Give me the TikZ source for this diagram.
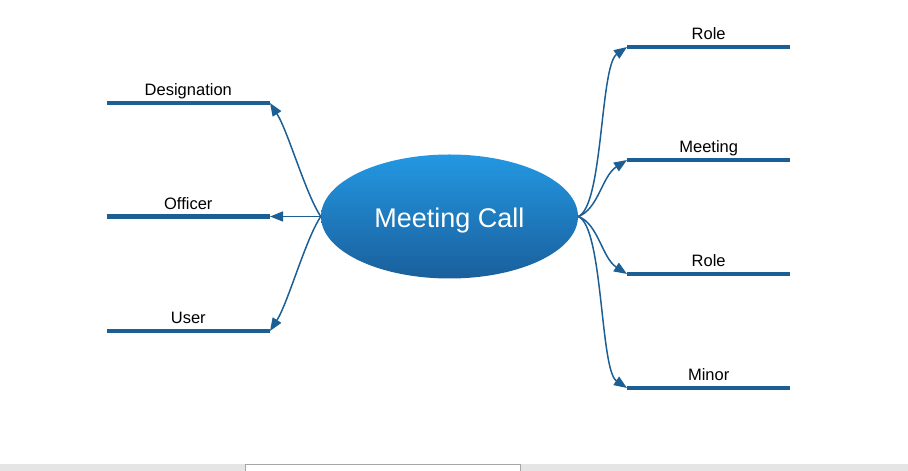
\documentclass[tikz,border=0pt]{standalone}
\usepackage{fontspec}
\setmainfont{Liberation Sans}
\usetikzlibrary{shapes.geometric, arrows.meta, positioning}

\definecolor{mapblue}{HTML}{1C5F95}
\definecolor{calltop}{HTML}{2398E2}
\definecolor{callbot}{HTML}{1A5F9C}

\begin{document}
\begin{tikzpicture}[x=1pt, y=1pt,
  bar/.style={fill=mapblue, inner sep=0pt, minimum width=163pt, minimum height=4.5pt},
  lbl/.style={inner sep=0pt, text depth=4pt, font=\fontsize{16.5}{19}\selectfont},
  conn/.style={draw=mapblue, line width=1.5pt, -{Triangle[length=13pt, width=10pt]}}]
\useasboundingbox (0,0) rectangle (908,471);
\fill[gray!20] (0,0) rectangle (908,7);
\filldraw[fill=white, draw=gray!70] (245,-1) rectangle (520,6.5);
\node[ellipse, top color=calltop, bottom color=callbot, minimum width=257pt, minimum height=124pt, inner sep=0pt, text height=22pt, text depth=0pt, text=white, font=\fontsize{27}{32}\selectfont] (call) at (449.5,254.5) {Meeting Call};
\node[bar, anchor=west] (role) at (627,424) {};
\node[bar, anchor=west] (meeting) at (627,311) {};
\node[bar, anchor=west] (role2) at (627,197) {};
\node[bar, anchor=west] (minor) at (627,83) {};
\node[bar, anchor=east] (desig) at (270,368) {};
\node[bar, anchor=east] (officer) at (270,254.5) {};
\node[bar, anchor=east] (user) at (270,140) {};
\node[lbl, above=0.5pt of role] {Role};
\node[lbl, above=0.5pt of meeting] {Meeting};
\node[lbl, above=0.5pt of role2] {Role};
\node[lbl, above=0.5pt of minor] {Minor};
\node[lbl, above=0.5pt of desig] {Designation};
\node[lbl, above=0.5pt of officer] {Officer};
\node[lbl, above=0.5pt of user] {User};
\draw[conn] (call.east) .. controls +(25,10) and +(-27,-19) .. (role.west);
\draw[conn] (call.east) .. controls +(20,7) and +(-25,-16) .. (meeting.west);
\draw[conn] (call.east) .. controls +(20,-7) and +(-25,16) .. (role2.west);
\draw[conn] (call.east) .. controls +(25,-10) and +(-27,18) .. (minor.west);
\draw[conn] (call.west) .. controls +(-15,22) and +(18,-28) .. (desig.east);
\draw[conn] (call.west) -- (officer.east);
\draw[conn] (call.west) .. controls +(-15,-22) and +(18,28) .. (user.east);
\end{tikzpicture}
\end{document}
